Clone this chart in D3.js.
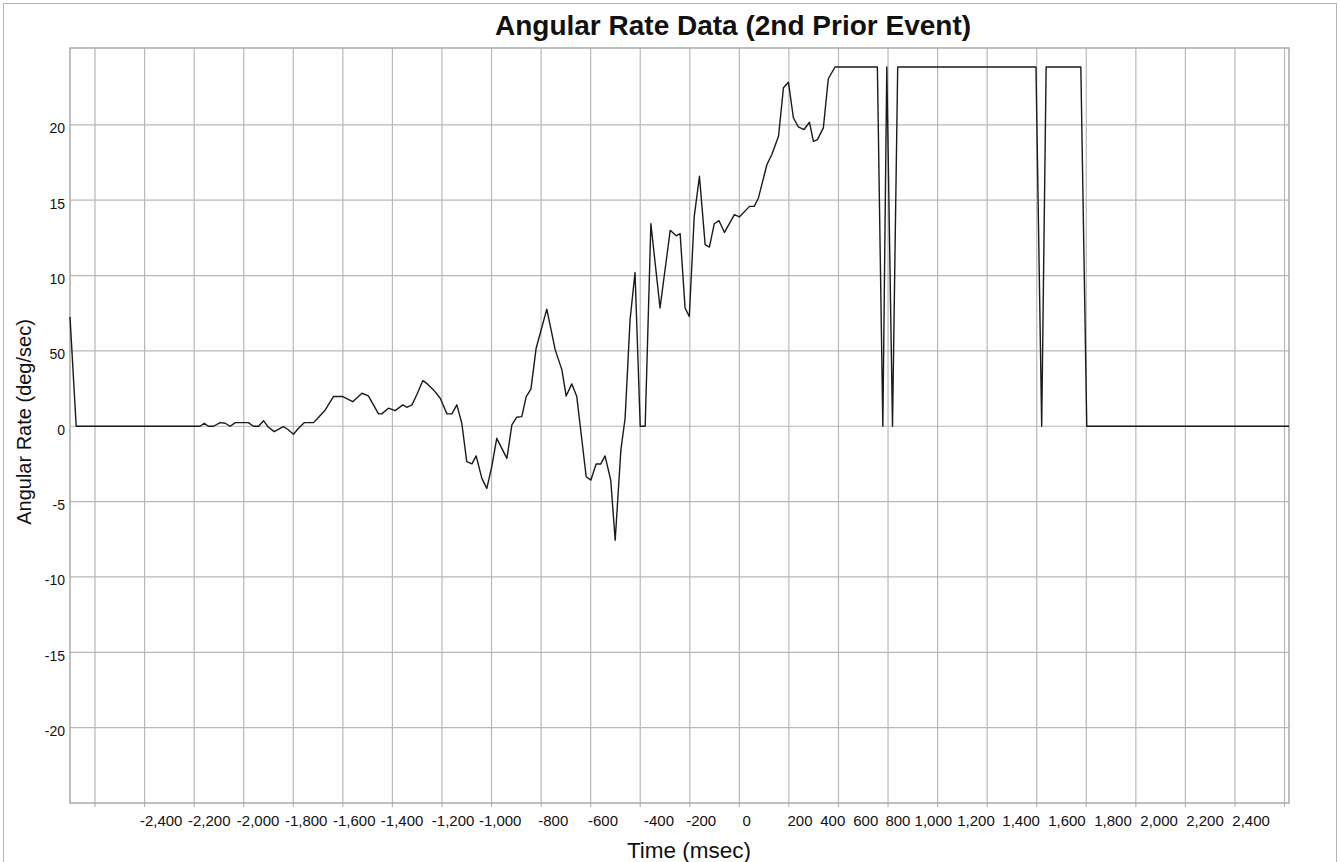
<!DOCTYPE html>
<html>
<head>
<meta charset="utf-8">
<script src="https://cdn.jsdelivr.net/npm/d3@7"></script>
<style>
  body { margin: 0; background: #fff; }
  text { font-family: "Liberation Sans", Arial, sans-serif; fill: #111; }
</style>
</head>
<body>
<script>
// time in msec, angular rate in deg/sec
let timeMs = [
  -2501, -2476, -1976, -1959, -1943, -1922, -1895, -1875, -1855, -1834,
  -1781, -1761, -1740, -1720, -1700, -1677, -1640, -1623, -1599, -1579,
  -1556, -1518, -1505, -1471, -1438, -1400, -1360, -1323, -1297, -1256,
  -1243, -1216, -1189, -1158, -1142, -1121, -1099, -1077, -1059, -1034,
  -1007, -980, -960, -940, -920, -900, -879, -862, -839, -819,
  -799, -779, -738, -718, -698, -678, -660, -641, -620, -577,
  -543, -516, -499, -476, -456, -418, -399, -378, -359, -342,
  -319, -301, -278, -261, -241, -221, -200, -180, -157, -120,
  -79, -55, -39, -19, -2, 18, 39, 62, 79, 99,
  118, 140, 180, 200, 241, 260, 277, 311, 331, 358,
  378, 398, 418, 438, 461, 483, 499, 515, 539, 559,
  586, 757, 779, 795, 818, 839, 1397, 1420, 1438, 1578,
  1602, 2418
]
let rateDeg = [
  7.26, 0, 0, 0.2, 0, 0, 0.24, 0.2, 0, 0.24,
  0.24, 0, 0, 0.37, -0.07, -0.36, -0.03, -0.2, -0.53, -0.13,
  0.24, 0.24, 0.46, 1.08, 1.97, 1.97, 1.63, 2.19, 2.01, 0.82,
  0.82, 1.2, 1.04, 1.42, 1.26, 1.42, 2.19, 3.03, 2.81, 2.41,
  1.86, 0.82, 0.82, 1.42, 0.2, -2.35, -2.5, -1.97, -3.46, -4.12,
  -2.68, -0.8, -2.13, 0.09, 0.6, 0.64, 1.97, 2.46, 5.18, 7.77,
  5.07, 3.74, 2.01, 2.81, 1.97, -3.35, -3.57, -2.5, -2.5, -1.97,
  -3.57, -7.56, -1.57, 0.53, 7.06, 10.2, 0, 0, 13.44, 7.85,
  13.0, 12.64, 12.78, 7.85, 7.28, 13.93, 16.59, 12.05, 11.89, 13.44,
  13.64, 12.86, 14.04, 13.89, 14.59, 14.59, 15.15, 17.35, 18.03, 19.24,
  22.46, 22.83, 20.47, 19.87, 19.69, 20.17, 18.91, 19.02, 19.8, 23.06,
  23.84, 23.84, 0, 23.84, 0, 23.84, 23.84, 0, 23.84, 23.84,
  0, 0
]

let xGridValues = d3.range(-2400, 2401, 200)
let xTickLabels = [
  '-2,400', '-2,200', '-2,000', '-1,800', '-1,600', '-1,400', '-1,200', '-1,000',
  '-800', '-600', '-400', '-200', '0', '200', '400', '600', '800',
  '1,000', '1,200', '1,400', '1,600', '1,800', '2,000', '2,200', '2,400'
]
// where the exporter put each label along the time axis (msec)
let xTickLabelAt = [
  -2133, -1939, -1742, -1548, -1354, -1161, -955, -765,
  -551, -350, -124, 46, 230, 445, 577, 710, 840,
  983, 1155, 1337, 1522, 1708, 1894, 2079, 2265
]
let yTickValues = [-20, -15, -10, -5, 0, 5, 10, 15, 20]
let yTickLabels = ['-20', '-15', '-10', '-5', '0', '50', '10', '15', '20']

let width = 1340
let height = 862
let plot = { left: 70, right: 1289, top: 48, bottom: 803 }

const svg = d3.select('body').append('svg').attr('width', width).attr('height', height)

// outer frame
svg.append('rect')
  .attr('x', 3.5).attr('y', 3.5)
  .attr('width', 1333).attr('height', 880)
  .attr('fill', 'none').attr('stroke', '#b4b4b4')

const x = d3.scaleLinear().domain([-2501, 2418]).range([plot.left, plot.right])
const y = d3.scaleLinear().domain([-25, 25.1]).range([plot.bottom, plot.top])

// vertical grid + ticks
svg.append('g')
  .selectAll('line')
  .data(xGridValues)
  .enter()
  .append('line')
  .attr('x1', d => x(d)).attr('x2', d => x(d))
  .attr('y1', plot.top).attr('y2', plot.bottom + 4)
  .attr('stroke', '#b8b8b8')
  .attr('stroke-width', 1.2)

// horizontal grid
svg.append('g')
  .selectAll('line')
  .data(yTickValues)
  .enter()
  .append('line')
  .attr('x1', plot.left).attr('x2', plot.right)
  .attr('y1', d => y(d)).attr('y2', d => y(d))
  .attr('stroke', '#b8b8b8')
  .attr('stroke-width', 1.2)

// plot border
svg.append('rect')
  .attr('x', plot.left).attr('y', plot.top)
  .attr('width', plot.right - plot.left).attr('height', plot.bottom - plot.top)
  .attr('fill', 'none')
  .attr('stroke', '#a4a4a4')
  .attr('stroke-width', 1.4)

// y tick labels
svg.append('g')
  .selectAll('text')
  .data(yTickValues)
  .enter()
  .append('text')
  .attr('x', 65)
  .attr('y', d => y(d) + 8.5)
  .attr('text-anchor', 'end')
  .style('font-size', '14px')
  .text((d, i) => yTickLabels[i])

// x tick labels
svg.append('g')
  .selectAll('text')
  .data(xTickLabels)
  .enter()
  .append('text')
  .attr('x', (d, i) => x(xTickLabelAt[i]))
  .attr('y', 826)
  .attr('text-anchor', 'middle')
  .style('font-size', '15px')
  .text(d => d)

// the trace
const points = timeMs.map((t, i) => [t, rateDeg[i]])
const line = d3.line().x(d => x(d[0])).y(d => y(d[1]))
svg.append('path')
  .datum(points)
  .attr('d', line)
  .attr('fill', 'none')
  .attr('stroke', '#1a1a1a')
  .attr('stroke-width', 1.4)
  .attr('stroke-linejoin', 'round')

// titles
svg.append('text')
  .attr('x', 733).attr('y', 35)
  .attr('text-anchor', 'middle')
  .style('font-size', '28px')
  .style('font-weight', 'bold')
  .text('Angular Rate Data (2nd Prior Event)')

svg.append('text')
  .attr('x', 689).attr('y', 858)
  .attr('text-anchor', 'middle')
  .style('font-size', '22.5px')
  .text('Time (msec)')

svg.append('text')
  .attr('transform', 'translate(31,422) rotate(-90)')
  .attr('text-anchor', 'middle')
  .style('font-size', '20px')
  .text('Angular Rate (deg/sec)')
</script>
</body>
</html>
